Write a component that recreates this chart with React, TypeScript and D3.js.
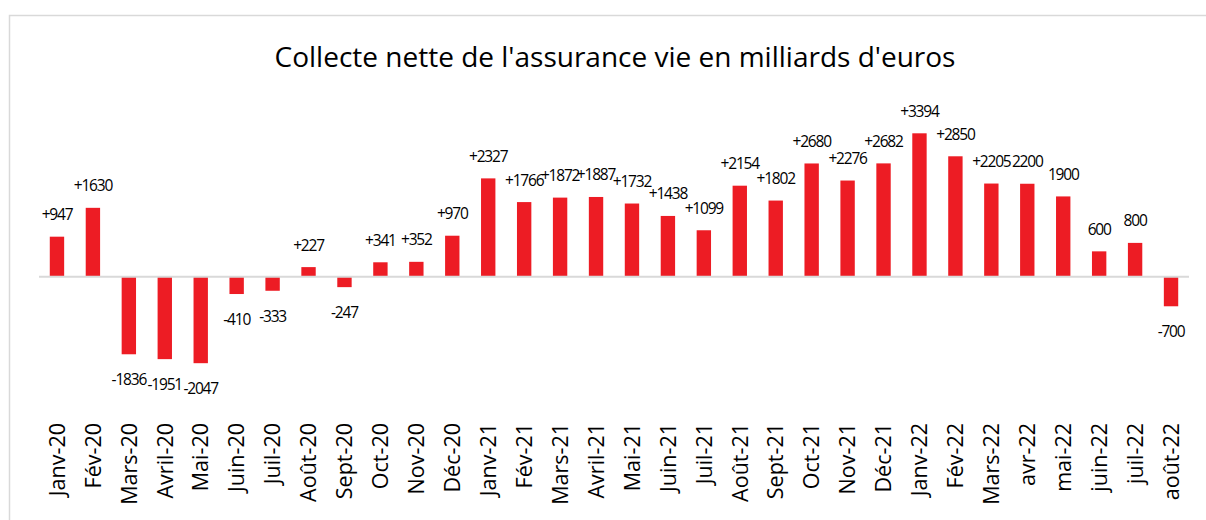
import React from "react";
import * as d3 from "d3";

const categories = [
  "Janv-20", "Fév-20", "Mars-20", "Avril-20", "Mai-20", "Juin-20", "Juil-20", "Août-20",
  "Sept-20", "Oct-20", "Nov-20", "Déc-20", "Janv-21", "Fév-21", "Mars-21", "Avril-21",
  "Mai-21", "Juin-21", "Juil-21", "Août-21", "Sept-21", "Oct-21", "Nov-21", "Déc-21",
  "Janv-22", "Fév-22", "Mars-22", "avr-22", "mai-22", "juin-22", "juil-22", "août-22",
];

const values = [
  947, 1630, -1836, -1951, -2047, -410, -333, 227,
  -247, 341, 352, 970, 2327, 1766, 1872, 1887,
  1732, 1438, 1099, 2154, 1802, 2680, 2276, 2682,
  3394, 2850, 2205, 2200, 1900, 600, 800, -700,
];

const valueLabels = [
  "+947", "+1630", "-1836", "-1951", "-2047", "-410", "-333", "+227",
  "-247", "+341", "+352", "+970", "+2327", "+1766", "+1872", "+1887",
  "+1732", "+1438", "+1099", "+2154", "+1802", "+2680", "+2276", "+2682",
  "+3394", "+2850", "+2205", "2200", "1900", "600", "800", "-700",
];

const title = "Collecte nette de l'assurance vie en milliards d'euros";

const W = 1206;
const H = 520;
const FONT = "'Open Sans', 'DejaVu Sans', sans-serif";

export default function App() {
  const x = d3
    .scaleBand<string>()
    .domain(categories)
    .range([39, 1189])
    .paddingInner(0.6)
    .paddingOuter(0.3);

  const zeroY = 276.7;
  const k = 0.04225;
  const y = d3
    .scaleLinear()
    .domain([-2500, 4000])
    .range([zeroY + 2500 * k, zeroY - 4000 * k]);

  const labelTop = 423;

  return (
    <svg
      width={W}
      height={H}
      style={{ position: "absolute", left: 0, top: 0, background: "#fff" }}
      fontFamily={FONT}
    >
      <rect x={0} y={0} width={W} height={H} fill="#fff" />
      {/* chart frame */}
      <path d={`M9.5,${H + 2} V15.5 H${W + 2}`} fill="none" stroke="#d9d9d9" strokeWidth={1.5} />

      <text
        x={615}
        y={67}
        textAnchor="middle"
        fontSize={28}
        fill="#000"
      >
        {title}
      </text>

      {/* bars */}
      {values.map((v, i) => {
        const c = categories[i];
        const y0 = y(0);
        const y1 = y(v);
        return (
          <rect
            key={c}
            x={x(c)!}
            y={Math.min(y0, y1)}
            width={x.bandwidth()}
            height={Math.abs(y1 - y0)}
            fill="#ED1C24"
          />
        );
      })}

      {/* zero axis line */}
      <line
        x1={39}
        x2={1189}
        y1={y(0)}
        y2={y(0)}
        stroke="#d9d9d9"
        strokeWidth={2}
      />

      {/* data labels */}
      {values.map((v, i) => {
        const c = categories[i];
        const cx = x(c)! + x.bandwidth() / 2;
        const ty = v >= 0 ? y(v) - 16.5 : y(v) + 31;
        return (
          <text
            key={"l" + c}
            x={cx}
            y={ty}
            textAnchor="middle"
            fontSize={15.5}
            letterSpacing={-1.2}
            fill="#000"
          >
            {valueLabels[i]}
          </text>
        );
      })}

      {/* category labels */}
      {categories.map((c) => {
        const cx = x(c)! + x.bandwidth() / 2;
        return (
          <text
            key={"c" + c}
            transform={`translate(${cx},${labelTop}) rotate(-90)`}
            textAnchor="end"
            dy="0.36em"
            fontSize={21.5}
            fill="#000"
          >
            {c}
          </text>
        );
      })}
    </svg>
  );
}
